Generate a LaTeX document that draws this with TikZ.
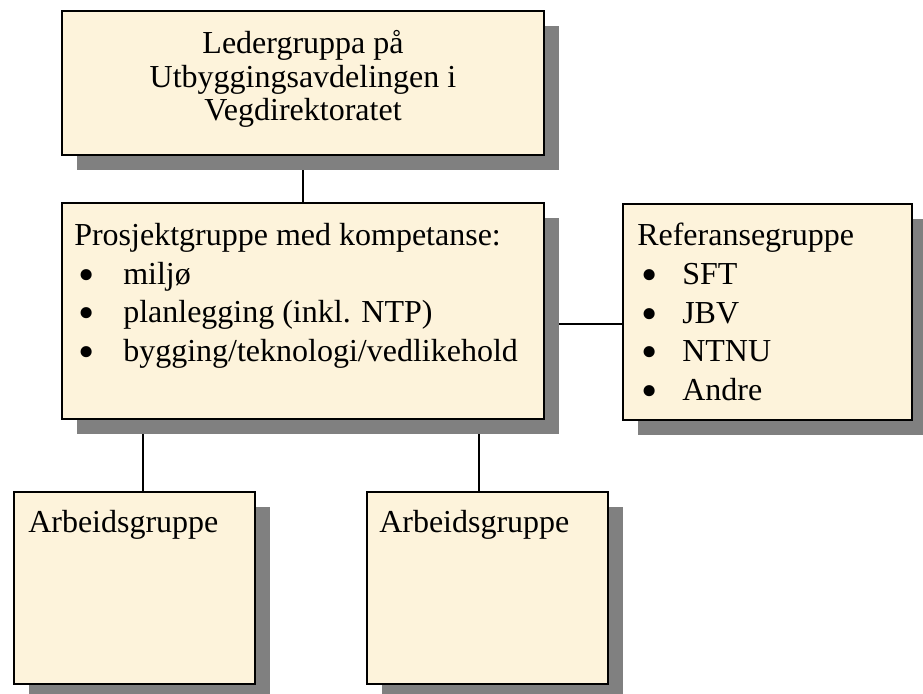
\documentclass[tikz,border=0pt]{standalone}
\usepackage{fontspec}
\setmainfont{Liberation Serif}
\usetikzlibrary{shadows,backgrounds}
\definecolor{parchment}{RGB}{253,243,219}
\definecolor{shadowgray}{RGB}{128,128,128}
\newcommand{\itm}[2][36.75pt]{\makebox[#1][l]{\hspace{3pt}\smash{\raisebox{-4.5pt}{\scalebox{1.45}{\textbullet}}}}#2}
\begin{document}
\begin{tikzpicture}[x=0.75pt, y=-0.75pt,
  every node/.style={font=\fontsize{24}{29}\selectfont},
  grp/.style={draw, line width=1.5pt, fill=parchment, inner sep=0pt, anchor=north west,
    general shadow={fill=shadowgray, shadow xshift=11.25pt, shadow yshift=-11.25pt}},
  txt/.style={anchor=north west, inner sep=0pt, align=left},
  link/.style={line width=1.2pt}]
  \useasboundingbox (0,0) rectangle (923,693);
  % boxes
  \node[grp, minimum width=361.5pt, minimum height=108pt] (leder) at (61,10) {};
  \node[grp, minimum width=361.5pt, minimum height=162pt] (prosjekt) at (61,202) {};
  \node[grp, minimum width=216.75pt, minimum height=162pt] (referanse) at (622,203) {};
  \node[grp, minimum width=180.75pt, minimum height=144pt] (arbeid1) at (13,491) {};
  \node[grp, minimum width=180.75pt, minimum height=144pt] (arbeid2) at (366,491) {};
  % texts
  \node[inner sep=0pt, align=center, font=\fontsize{24}{25}\selectfont] (ledertxt)
    at ([yshift=3pt]leder.center) {Ledergruppa på\\Utbyggingsavdelingen i\\Vegdirektoratet};
  \node[txt] (prosjekttxt) at ([shift={(13,21)}]prosjekt.north west)
    {Prosjektgruppe med kompetanse:\\\itm{miljø}\\\itm{planlegging (inkl. NTP)}\\\itm{bygging/teknologi/vedlikehold}};
  \node[txt] (referansetxt) at ([shift={(15,20)}]referanse.north west)
    {Referansegruppe\\\itm[33.75pt]{SFT}\\\itm[33.75pt]{JBV}\\\itm[33.75pt]{NTNU}\\\itm[33.75pt]{Andre}};
  \node[txt] (arbeid1txt) at ([shift={(15,19)}]arbeid1.north west) {Arbeidsgruppe};
  \node[txt] (arbeid2txt) at ([shift={(13,19)}]arbeid2.north west) {Arbeidsgruppe};
  % connectors behind the boxes
  \begin{scope}[on background layer]
    \draw[link] (leder.south) -- (prosjekt.north);
    \draw[link] ([yshift=-9.75pt]prosjekt.east) -- ([yshift=-9.75pt]prosjekt.east -| referanse.west);
    \draw[link] ([xshift=6.4pt]arbeid1.north) -- ([xshift=6.4pt]arbeid1.north |- prosjekt.south);
    \draw[link] ([xshift=-6.4pt]arbeid2.north) -- ([xshift=-6.4pt]arbeid2.north |- prosjekt.south);
  \end{scope}
\end{tikzpicture}
\end{document}
